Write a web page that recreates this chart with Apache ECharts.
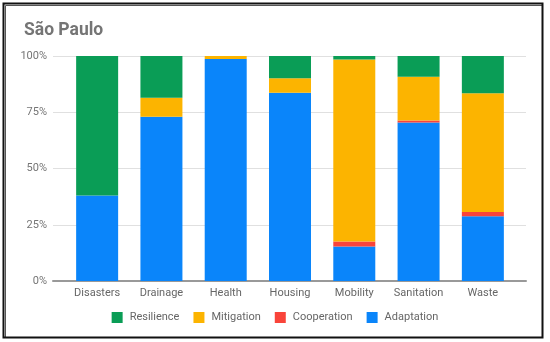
<!DOCTYPE html>
<html>
<head>
<meta charset="utf-8">
<script src="https://cdn.jsdelivr.net/npm/echarts@6/dist/echarts.min.js"></script>
<style>
html,body{margin:0;padding:0;background:#fff;}
#c{width:550px;height:342px;}
</style>
</head>
<body>
<div id="c"></div>
<script>
const title = "São Paulo";
const categories = ["Disasters", "Drainage", "Health", "Housing", "Mobility", "Sanitation", "Waste"];
const adaptation  = [38.0, 73.0, 98.7, 83.7, 15.3, 70.4, 28.8];
const cooperation = [0,    0,    0,    0,    2.3,  0.9,  1.9];
const mitigation  = [0,    8.5,  1.3,  6.4,  80.9, 19.5, 52.7];
const resilience  = [62.0, 18.5, 0,    9.9,  1.5,  9.2,  16.6];
const yTicks = [0, 25, 50, 75, 100];
const legendOrder = ["Resilience", "Mitigation", "Cooperation", "Adaptation"];

const colors = {
  Adaptation: "#0a85fa",
  Cooperation: "#f9443a",
  Mitigation: "#fcb400",
  Resilience: "#0a9d56"
};

const chart = echarts.init(document.getElementById('c'), null, {renderer: 'canvas'});
const font = "Roboto, 'Noto Sans', sans-serif";

function bar(name, data) {
  return {
    name: name, type: 'bar', stack: 'total', data: data,
    xAxisIndex: 1, yAxisIndex: 1,
    barWidth: 42,
    itemStyle: {color: colors[name]},
    emphasis: {disabled: true}
  };
}

chart.setOption({
  animation: false,
  backgroundColor: '#fff',
  color: legendOrder.map(n => colors[n]),
  title: {
    text: title, left: 19, top: 17,
    textStyle: {fontFamily: font, fontSize: 17.5, fontWeight: 'bold', color: '#757575'}
  },
  graphic: [
    {type: 'rect', shape: {x: 5.5, y: 5.5, width: 537, height: 332}, style: {fill: 'none', stroke: '#555', lineWidth: 1}, z: 100},
    {type: 'rect', shape: {x: 3.5, y: 3.5, width: 539, height: 334}, style: {fill: 'none', stroke: '#111', lineWidth: 2}, z: 100}
  ],
  legend: {
    data: legendOrder,
    top: 307, left: 'center',
    itemWidth: 11, itemHeight: 11, itemGap: 14,
    icon: 'rect',
    textStyle: {fontFamily: font, fontSize: 11, color: '#666', padding: [0, 0, 0, 2]}
  },
  grid: [
    {left: 53, right: 24, top: 56, bottom: 61},
    {left: 65, right: 35, top: 56, bottom: 61}
  ],
  xAxis: [
    {type: 'category', gridIndex: 0, data: categories,
     axisLine: {show: true, lineStyle: {color: '#999', width: 2}},
     axisTick: {show: false}, axisLabel: {show: false}, splitLine: {show: false}},
    {type: 'category', gridIndex: 1, data: categories,
     axisLine: {show: false}, axisTick: {show: false},
     axisLabel: {interval: 0, fontFamily: font, fontSize: 11, color: '#666', margin: 7}}
  ],
  yAxis: [
    {type: 'value', gridIndex: 0, min: 0, max: 100, interval: 25,
     axisLine: {show: false}, axisTick: {show: false},
     axisLabel: {formatter: v => yTicks.includes(v) ? v + '%' : '', fontFamily: font, fontSize: 11, color: '#757575', margin: 6},
     splitLine: {lineStyle: {color: '#e0e0e0', width: 1}}},
    {type: 'value', gridIndex: 1, min: 0, max: 100, interval: 25, show: false}
  ],
  series: [
    bar('Adaptation', adaptation),
    bar('Cooperation', cooperation),
    bar('Mitigation', mitigation),
    bar('Resilience', resilience)
  ]
});
</script>
</body>
</html>
